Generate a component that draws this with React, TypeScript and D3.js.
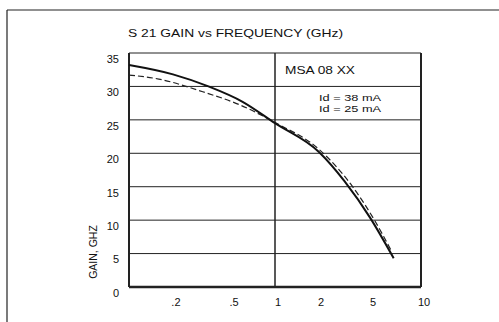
import React from 'react';
import * as d3 from 'd3';

// solid curve: Id = 38 mA
const solidFreq = [0.1, 0.2, 0.35, 0.6, 1, 2, 3, 4.5, 6.5];
const solidGain = [33.2, 31.8, 30.0, 27.7, 24.5, 20.2, 15.8, 10.3, 4.3];

// dashed curve: Id = 25 mA
const dashFreq = [0.1, 0.16, 0.32, 0.58, 1, 2, 3.4, 4.8, 6.2];
const dashGain = [31.7, 31.1, 29.2, 27.2, 24.6, 20.6, 15.0, 10.0, 5.6];

const yTicks = [0, 5, 10, 15, 20, 25, 30, 35];
const xTicks = [0.2, 0.5, 1, 2, 5, 10];
const xTickLabels = ['.2', '.5', '1', '2', '5', '10'];

const W = 499;
const H = 322;
const FONT = '"Liberation Sans", Arial, sans-serif';

const App: React.FC = () => {
  const x = d3.scaleLog().domain([0.1, 10]).range([129, 421]);
  const y = d3.scaleLinear().domain([0, 35]).range([287, 53]);

  const line = d3
    .line<[number, number]>()
    .x(d => x(d[0]))
    .y(d => y(d[1]))
    .curve(d3.curveMonotoneX);

  const solid = solidFreq.map((f, i) => [f, solidGain[i]] as [number, number]);
  const dashed = dashFreq.map((f, i) => [f, dashGain[i]] as [number, number]);

  const [x0, x1] = x.range();
  const legendX = (x(1) + x1) / 2 + 2;

  return (
    <svg
      width={W}
      height={H}
      style={{ position: 'absolute', left: 0, top: 0, background: '#fff' }}
    >
      {/* outer frame */}
      <line x1={7} y1={10} x2={W} y2={10} stroke="#222" strokeWidth={1.2} />
      <line x1={7} y1={10} x2={7} y2={H} stroke="#222" strokeWidth={1.2} />

      <text x={128} y={37} fontFamily={FONT} fontSize={11} fill="#111" textLength={215} lengthAdjust="spacingAndGlyphs">
        S 21 GAIN vs FREQUENCY (GHz)
      </text>

      {/* horizontal grid */}
      {yTicks.map(t => (
        <line key={t} x1={x0} x2={x1} y1={y(t)} y2={y(t)} stroke="#222" strokeWidth={t === 0 ? 2.5 : 1} />
      ))}
      {yTicks.map(t => (
        <text key={'l' + t} x={119} y={y(t) + 6} dy="0.35em" textAnchor="end" fontFamily={FONT} fontSize={11} fill="#111">
          {t}
        </text>
      ))}

      {/* vertical lines */}
      <line x1={x0} x2={x0} y1={y(35)} y2={y(0)} stroke="#222" strokeWidth={2} />
      <line x1={x(1)} x2={x(1)} y1={y(35)} y2={y(0)} stroke="#222" strokeWidth={1.5} />
      <line x1={x1} x2={x1} y1={y(35)} y2={y(0)} stroke="#222" strokeWidth={2} />

      {xTicks.map((t, i) => (
        <text key={t} x={x(t) + (t === 2 ? 2 : t === 5 ? -4 : 3)} y={302} dy="0.35em" textAnchor="middle" fontFamily={FONT} fontSize={11} fill="#111">
          {xTickLabels[i]}
        </text>
      ))}

      <text
        transform={`translate(93, 252) rotate(-90)`}
        textAnchor="middle"
        dy="0.35em"
        fontFamily={FONT}
        fontSize={10.5}
        fill="#111"
      >
        GAIN, GHZ
      </text>

      {/* legend box */}
      <text x={285} y={(y(35) + y(30)) / 2 + 1} dy="0.35em" fontFamily={FONT} fontSize={10.5} fill="#111" textLength={70} lengthAdjust="spacingAndGlyphs">
        MSA 08 XX
      </text>
      <text x={legendX} y={98} dy="0.35em" textAnchor="middle" fontFamily={FONT} fontSize={8.5} fill="#111" textLength={62} lengthAdjust="spacingAndGlyphs">
        Id = 38 mA
      </text>
      <text x={legendX} y={109} dy="0.35em" textAnchor="middle" fontFamily={FONT} fontSize={8.5} fill="#111" textLength={62} lengthAdjust="spacingAndGlyphs">
        Id = 25 mA
      </text>

      {/* curves */}
      <path d={line(dashed) || ''} fill="none" stroke="#222" strokeWidth={1.2} strokeDasharray="6,3" />
      <path d={line(solid) || ''} fill="none" stroke="#111" strokeWidth={2} />
    </svg>
  );
};

export default App;
